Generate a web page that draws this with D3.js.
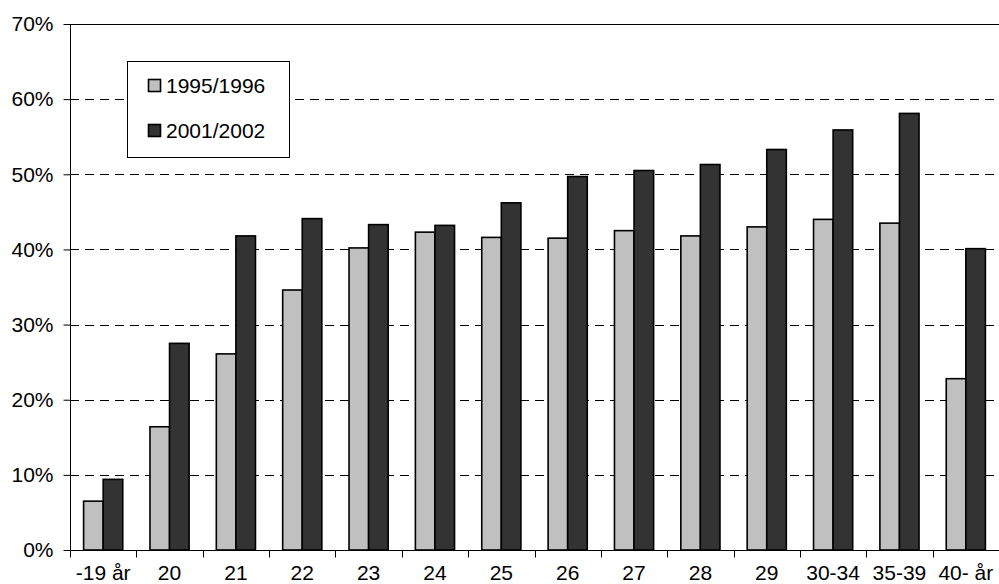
<!DOCTYPE html>
<html>
<head>
<meta charset="utf-8">
<script src="https://cdn.jsdelivr.net/npm/d3@7"></script>
<style>
  html, body { margin: 0; padding: 0; background: #fff; }
  svg { display: block; }
  text { font-family: "Liberation Sans", Arial, sans-serif; font-size: 21px; fill: #000; }
</style>
</head>
<body>
<script>
// Age groups and the share (%) in each of the two survey periods
const categories = ["-19 år", "20", "21", "22", "23", "24", "25", "26", "27", "28", "29", "30-34", "35-39", "40- år"];
const seriesNames = ["1995/1996", "2001/2002"];
const values1995 = [6.5, 16.4, 26.1, 34.6, 40.2, 42.3, 41.6, 41.5, 42.5, 41.8, 43.0, 44.0, 43.5, 22.8];
const values2001 = [9.4, 27.5, 41.8, 44.1, 43.3, 43.2, 46.2, 49.7, 50.5, 51.3, 53.3, 55.9, 58.1, 40.1];
const yTicks = [0, 10, 20, 30, 40, 50, 60, 70];
const colors = ["#c0c0c0", "#333333"];

const W = 999, H = 584;
const m = { left: 70, right: 0, top: 24, bottom: 34 };

const svg = d3.select("body").append("svg").attr("width", W).attr("height", H);

const x = d3.scaleBand().domain(categories).range([m.left, W - m.right])
  .paddingInner(0.41).paddingOuter(0.205);
const xs = d3.scaleBand().domain(seriesNames).range([0, x.bandwidth()]);
const y = d3.scaleLinear().domain([0, 70]).range([H - m.bottom, m.top]);

// dashed gridlines
svg.append("g").selectAll("line").data(yTicks.filter(t => t > 0 && t < 70)).join("line")
  .attr("x1", m.left).attr("x2", W)
  .attr("y1", d => Math.round(y(d)) + 0.5).attr("y2", d => Math.round(y(d)) + 0.5)
  .attr("stroke", "#000").attr("stroke-width", 1).attr("stroke-dasharray", "9,6");

// top border
svg.append("line").attr("x1", m.left).attr("x2", W)
  .attr("y1", Math.round(y(70)) + 0.5).attr("y2", Math.round(y(70)) + 0.5)
  .attr("stroke", "#000").attr("stroke-width", 1);

// bars
const data = categories.map((c, i) => ({ c, vals: [values1995[i], values2001[i]] }));
const groups = svg.append("g").selectAll("g").data(data).join("g")
  .attr("transform", d => `translate(${x(d.c)},0)`);
groups.selectAll("rect").data(d => d.vals.map((v, j) => ({ v, s: seriesNames[j], j }))).join("rect")
  .attr("x", d => xs(d.s))
  .attr("y", d => y(d.v))
  .attr("width", xs.bandwidth())
  .attr("height", d => y(0) - y(d.v))
  .attr("fill", d => colors[d.j])
  .attr("stroke", "#000").attr("stroke-width", 1.6);

// y axis
const yAxis = d3.axisLeft(y).tickValues(yTicks).tickFormat(d => d + "%").tickSize(7).tickPadding(10);
const gy = svg.append("g").attr("transform", `translate(${m.left + 0.5},0)`).call(yAxis);
gy.select(".domain").attr("d", `M0,${m.top}V${H - m.bottom + 7}`).attr("stroke", "#000");
gy.selectAll(".tick line").attr("stroke", "#000");
gy.selectAll("text").style("font-size", "21px").style("font-family", "'Liberation Sans', Arial, sans-serif").attr("fill", "#000");

// x axis
const gx = svg.append("g").attr("transform", `translate(0,${Math.round(y(0)) + 0.5})`);
gx.append("line").attr("x1", m.left).attr("x2", W).attr("stroke", "#000");
const bounds = categories.map(c => x(c) - x.step() * x.paddingInner() / 2);
bounds.push(W - 0.5);
gx.selectAll("line.tk").data(bounds).join("line").attr("class", "tk")
  .attr("x1", d => Math.round(d) + 0.5).attr("x2", d => Math.round(d) + 0.5)
  .attr("y1", 0).attr("y2", 7).attr("stroke", "#000");
gx.selectAll("text").data(categories).join("text")
  .attr("x", d => x(d) + x.bandwidth() / 2)
  .attr("y", 29)
  .attr("text-anchor", "middle")
  .text(d => d);

// legend
const lg = svg.append("g");
lg.append("rect").attr("x", 127.5).attr("y", 61.5).attr("width", 162).attr("height", 96)
  .attr("fill", "#fff").attr("stroke", "#000");
seriesNames.forEach((s, i) => {
  const cy = 85.5 + i * 45;
  lg.append("rect").attr("x", 148.5).attr("y", cy - 6).attr("width", 12).attr("height", 12)
    .attr("fill", colors[i]).attr("stroke", "#000").attr("stroke-width", 1.6);
  lg.append("text").attr("x", 166).attr("y", cy).attr("dy", "0.36em").text(s);
});
</script>
</body>
</html>
